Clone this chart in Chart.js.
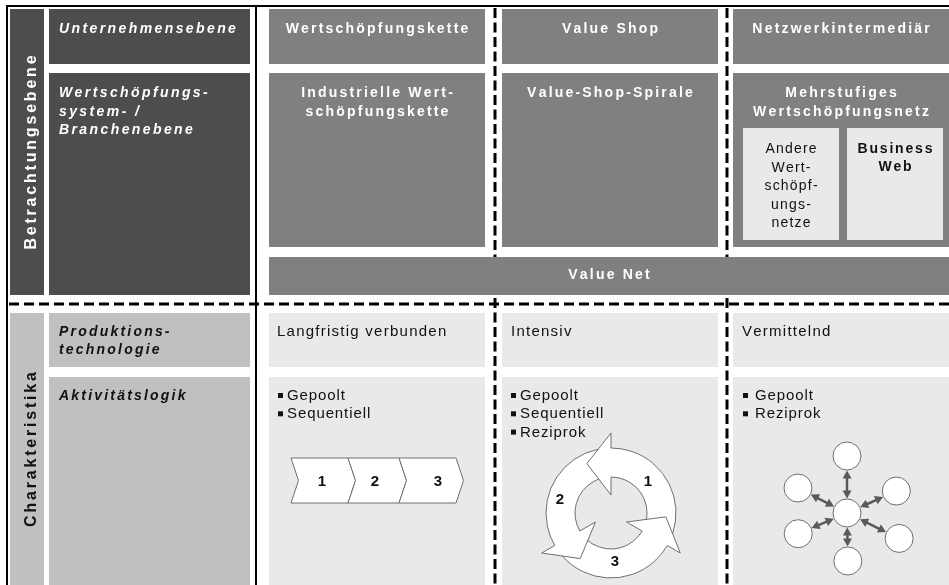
<!DOCTYPE html>
<html lang="de">
<head>
<meta charset="utf-8">
<title>Wertschöpfungskonfigurationen</title>
<script src="https://cdn.jsdelivr.net/npm/chart.js@4.4.1/dist/chart.umd.min.js"></script>
<style>
    html, body { margin: 0; padding: 0; background: #fff; }
    canvas { display: block; }
</style>
</head>
<body>
<canvas id="diagramm" width="949" height="585"></canvas>
<script>
// Inhalte des Schemas
const ebenenGruppen = ['Betrachtungsebene', 'Charakteristika'];
const betrachtungsebenen = ['Unternehmensebene', 'Wertschöpfungs-\nsystem- /\nBranchenebene'];
const charakteristika = ['Produktions-\ntechnologie', 'Aktivitätslogik'];
const modelle = ['Wertschöpfungskette', 'Value Shop', 'Netzwerkintermediär'];
const systeme = ['Industrielle Wert-\nschöpfungskette', 'Value-Shop-Spirale', 'Mehrstufiges\nWertschöpfungsnetz'];
const teilnetze = ['Andere\nWert-\nschöpf-\nungs-\nnetze', 'Business\nWeb'];
const gesamtsystem = 'Value Net';
const technologien = ['Langfristig verbunden', 'Intensiv', 'Vermittelnd'];
const aktivitaeten = [
    ['Gepoolt', 'Sequentiell'],
    ['Gepoolt', 'Sequentiell', 'Reziprok'],
    ['Gepoolt', 'Reziprok']
];
const kettenSchritte = ['1', '2', '3'];
const zyklusSchritte = ['1', '2', '3'];

(function () {
    const canvas = document.getElementById('diagramm');
    if (!canvas || typeof Chart === 'undefined') {
        return;
    }

    const SCHRIFT = '"Liberation Sans", Arial, Helvetica, sans-serif';
    const FARBE = {
        dunkel: '#4d4d4d',
        mittel: '#808080',
        hell: '#c0c0c0',
        sehrHell: '#e9e9e9',
        text: '#111111',
        kontur: '#6f6f6f',
        pfeil: '#5a5a5a'
    };

    // Raster (in Achseneinheiten, 1 Einheit = 1 Pixel)
    const spalten = [[269, 485], [502, 718], [733, 949]];
    const trenner = [495, 727];

    // Sternnetz: Nabe und Speichen (Winkel in Grad, Länge)
    const nabe = { x: 847, y: 513 };
    const speichen = [[90, 57], [24, 54], [-26, 58], [-89, 48], [-157, 53], [153, 55]];
    const grad = w => w * Math.PI / 180;
    const knoten = [nabe].concat(speichen.map(function (s) {
        return { x: nabe.x + s[1] * Math.cos(grad(s[0])), y: nabe.y - s[1] * Math.sin(grad(s[0])) };
    }));

    const zyklus = {
        cx: 611, cy: 513, innen: 36, aussen: 65, spitze: 55,
        hakenAussen: 80, hakenInnen: 18, kopf: 26, basis: [90, 210, 330],
        ziffern: [[648, 482], [560, 500], [615, 562]]
    };

    const kette = { kanten: [291, 348, 399, 456], tiefe: 7.5, oben: 458, unten: 503, ziffernX: [322, 375, 438] };

    function schreibe(ctx, text, x, y, font, farbe, abstand, mitte) {
        ctx.font = font;
        ctx.fillStyle = farbe;
        ctx.textAlign = 'left';
        ctx.textBaseline = 'alphabetic';
        const zeichen = Array.from(text);
        const breiten = zeichen.map(z => ctx.measureText(z).width);
        const gesamt = breiten.reduce((a, b) => a + b, 0) + abstand * (zeichen.length - 1);
        let px = mitte ? x - gesamt / 2 : x;
        zeichen.forEach(function (z, i) {
            ctx.fillText(z, px, y);
            px += breiten[i] + abstand;
        });
    }

    function schreibeZeilen(ctx, text, x, y, zeilenHoehe, font, farbe, abstand, mitte) {
        text.split('\n').forEach(function (zeile, i) {
            schreibe(ctx, zeile, x, y + i * zeilenHoehe, font, farbe, abstand, mitte);
        });
    }

    const diagrammPlugin = {
        id: 'wertschoepfungsschema',
        beforeDatasetsDraw(chart) {
            const ctx = chart.ctx;
            const X = v => chart.scales.x.getPixelForValue(v);
            const Y = v => chart.scales.y.getPixelForValue(v);
            const R = r => X(r) - X(0);

            function feld(x0, y0, x1, y1, farbe) {
                ctx.fillStyle = farbe;
                ctx.fillRect(X(x0), Y(y0), X(x1) - X(x0), Y(y1) - Y(y0));
            }

            ctx.save();

            // gestrichelte Trennlinien
            ctx.strokeStyle = '#000';
            ctx.lineWidth = 3;
            ctx.setLineDash([10, 4.5]);
            trenner.forEach(function (tx) {
                ctx.beginPath();
                ctx.moveTo(X(tx), Y(8));
                ctx.lineTo(X(tx), Y(585));
                ctx.stroke();
            });
            ctx.setLineDash([10, 5]);
            ctx.beginPath();
            ctx.moveTo(X(9), Y(304));
            ctx.lineTo(X(949), Y(304));
            ctx.stroke();
            ctx.setLineDash([]);

            // linke Spalten
            feld(10, 9, 44, 295, FARBE.dunkel);
            feld(49, 9, 250, 64, FARBE.dunkel);
            feld(49, 73, 250, 295, FARBE.dunkel);
            feld(10, 313, 44, 585, FARBE.hell);
            feld(49, 313, 250, 367, FARBE.hell);
            feld(49, 377, 250, 585, FARBE.hell);

            // obere Matrix
            spalten.forEach(function (s) {
                feld(s[0], 9, s[1], 64, FARBE.mittel);
                feld(s[0], 73, s[1], 247, FARBE.mittel);
            });
            feld(743, 128, 839, 240, FARBE.sehrHell);
            feld(847, 128, 943, 240, FARBE.sehrHell);
            feld(269, 257, 949, 295, FARBE.mittel);

            // untere Matrix
            spalten.forEach(function (s) {
                feld(s[0], 313, s[1], 367, FARBE.sehrHell);
                feld(s[0], 377, s[1], 585, FARBE.sehrHell);
            });

            // Rahmenlinien
            ctx.fillStyle = '#000';
            ctx.fillRect(X(6), Y(5), X(949) - X(6), 2);
            ctx.fillRect(X(6), Y(5), 2, Y(585) - Y(5));
            ctx.fillRect(X(255), Y(5), 2, Y(585) - Y(5));

            // gedrehte Gruppenbeschriftungen
            [[ebenenGruppen[0], 152.5, '#ffffff'], [ebenenGruppen[1], 449.5, FARBE.text]].forEach(function (g) {
                ctx.save();
                ctx.translate(X(36), Y(g[1]));
                ctx.rotate(-Math.PI / 2);
                schreibe(ctx, g[0], 0, 0, 'bold 16px ' + SCHRIFT, g[2], 2.8, true);
                ctx.restore();
            });

            const fettKursiv = 'bold italic 14px ' + SCHRIFT;
            const fett = 'bold 14px ' + SCHRIFT;
            schreibe(ctx, betrachtungsebenen[0], X(59), Y(33), fettKursiv, '#ffffff', 2.4, false);
            schreibeZeilen(ctx, betrachtungsebenen[1], X(59), Y(97), 18.5, fettKursiv, '#ffffff', 2.4, false);
            schreibeZeilen(ctx, charakteristika[0], X(59), Y(336), 18, fettKursiv, FARBE.text, 2.2, false);
            schreibe(ctx, charakteristika[1], X(59), Y(400), fettKursiv, FARBE.text, 2.2, false);

            spalten.forEach(function (s, i) {
                const mx = X((s[0] + s[1]) / 2);
                schreibe(ctx, modelle[i], mx, Y(33), fett, '#ffffff', 2.2, true);
                schreibeZeilen(ctx, systeme[i], mx, Y(97), 18.5, fett, '#ffffff', 2.2, true);
            });
            schreibeZeilen(ctx, teilnetze[0], X(791), Y(153), 18.5, '14px ' + SCHRIFT, FARBE.text, 1.2, true);
            schreibeZeilen(ctx, teilnetze[1], X(895), Y(153), 18, fett, FARBE.text, 1.8, true);
            schreibe(ctx, gesamtsystem, X(609), Y(279), fett, '#ffffff', 2.2, true);

            // Produktionstechnologie und Aktivitätslogik
            const textX = [277, 511, 742];
            const punktX = [278, 511, 743];
            const listeX = [287, 520, 755];
            technologien.forEach(function (t, i) {
                schreibe(ctx, t, X(textX[i]), Y(336), '15px ' + SCHRIFT, FARBE.text, 1.25, false);
            });
            aktivitaeten.forEach(function (liste, i) {
                liste.forEach(function (eintrag, j) {
                    const by = 400 + j * 18.3;
                    ctx.fillStyle = FARBE.text;
                    ctx.fillRect(X(punktX[i]), Y(by - 7), 5, 5);
                    schreibe(ctx, eintrag, X(listeX[i]), Y(by), '15px ' + SCHRIFT, FARBE.text, 0.9, false);
                });
            });

            // Wertkette: drei Chevrons
            ctx.lineWidth = 1;
            ctx.strokeStyle = FARBE.kontur;
            const mitteY = (kette.oben + kette.unten) / 2;
            kettenSchritte.forEach(function (schritt, i) {
                const l = kette.kanten[i];
                const r = kette.kanten[i + 1];
                ctx.beginPath();
                ctx.moveTo(X(l), Y(kette.oben));
                ctx.lineTo(X(r), Y(kette.oben));
                ctx.lineTo(X(r + kette.tiefe), Y(mitteY));
                ctx.lineTo(X(r), Y(kette.unten));
                ctx.lineTo(X(l), Y(kette.unten));
                ctx.lineTo(X(l + kette.tiefe), Y(mitteY));
                ctx.closePath();
                ctx.fillStyle = '#ffffff';
                ctx.fill();
                ctx.stroke();
                ctx.font = 'bold 15px ' + SCHRIFT;
                ctx.fillStyle = FARBE.text;
                ctx.textAlign = 'center';
                ctx.textBaseline = 'middle';
                ctx.fillText(schritt, X(kette.ziffernX[i]), Y(mitteY + 1));
            });

            // Value-Shop-Spirale: drei Kreispfeile
            const z = zyklus;
            const polar = function (r, w) {
                return [X(z.cx + r * Math.cos(grad(w))), Y(z.cy - r * Math.sin(grad(w)))];
            };
            const zx = X(z.cx);
            const zy = Y(z.cy);
            function schnitt(a, b, r, bezug) {
                const abst = p => Math.hypot(p[0] - zx, p[1] - zy) - R(r);
                const fa = Math.sign(abst(a));
                let lo = 0;
                let hi = 1;
                for (let k = 0; k < 40; k++) {
                    const m = (lo + hi) / 2;
                    const p = [a[0] + (b[0] - a[0]) * m, a[1] + (b[1] - a[1]) * m];
                    if (Math.sign(abst(p)) === fa) { lo = m; } else { hi = m; }
                }
                const p = [a[0] + (b[0] - a[0]) * lo, a[1] + (b[1] - a[1]) * lo];
                let w = Math.atan2(-(p[1] - zy), p[0] - zx) * 180 / Math.PI;
                while (w < bezug - 180) { w += 360; }
                while (w > bezug + 180) { w -= 360; }
                return w;
            }
            function kopf(w) {
                const pts = [polar(z.hakenAussen, w), polar(z.spitze, w + z.kopf), polar(z.hakenInnen, w), polar(z.innen, w)];
                pts.forEach(p => ctx.lineTo(p[0], p[1]));
            }
            z.basis.forEach(function (w) {
                const vor = w - 120;
                ctx.beginPath();
                ctx.arc(zx, zy, R(z.aussen), -grad(vor), -grad(w), true);
                kopf(w);
                ctx.arc(zx, zy, R(z.innen), -grad(w), -grad(vor), false);
                ctx.closePath();
                ctx.fillStyle = '#ffffff';
                ctx.fill();
            });
            z.basis.forEach(function (w) {
                const vor = w - 120;
                const spitzeVor = polar(z.spitze, vor + z.kopf);
                const wa = schnitt(polar(z.hakenAussen, vor), spitzeVor, z.aussen, vor);
                const wi = schnitt(polar(z.hakenInnen, vor), spitzeVor, z.innen, vor);
                ctx.beginPath();
                ctx.arc(zx, zy, R(z.aussen), -grad(wa), -grad(w), true);
                kopf(w);
                ctx.arc(zx, zy, R(z.innen), -grad(w), -grad(wi), false);
                ctx.strokeStyle = FARBE.kontur;
                ctx.lineWidth = 1;
                ctx.stroke();
            });
            ctx.font = 'bold 15px ' + SCHRIFT;
            ctx.fillStyle = FARBE.text;
            ctx.textAlign = 'center';
            ctx.textBaseline = 'middle';
            zyklusSchritte.forEach(function (s, i) {
                ctx.fillText(s, X(z.ziffern[i][0]), Y(z.ziffern[i][1]));
            });

            // Sternnetz: Doppelpfeile zwischen Nabe und Knoten
            ctx.strokeStyle = FARBE.pfeil;
            ctx.fillStyle = FARBE.pfeil;
            ctx.lineWidth = 2.5;
            const knotenR = 14.5;
            const spitzeL = 8;
            const spitzeB = 4.5;
            knoten.slice(1).forEach(function (k) {
                const dx = k.x - nabe.x;
                const dy = k.y - nabe.y;
                const len = Math.hypot(dx, dy);
                const ux = dx / len;
                const uy = dy / len;
                const a = [nabe.x + ux * knotenR, nabe.y + uy * knotenR];
                const b = [k.x - ux * knotenR, k.y - uy * knotenR];
                ctx.beginPath();
                ctx.moveTo(X(a[0] + ux * spitzeL * 0.8), Y(a[1] + uy * spitzeL * 0.8));
                ctx.lineTo(X(b[0] - ux * spitzeL * 0.8), Y(b[1] - uy * spitzeL * 0.8));
                ctx.stroke();
                [[a, 1], [b, -1]].forEach(function (e) {
                    const p = e[0];
                    const s = e[1];
                    const bx = p[0] + s * ux * spitzeL;
                    const by = p[1] + s * uy * spitzeL;
                    ctx.beginPath();
                    ctx.moveTo(X(p[0]), Y(p[1]));
                    ctx.lineTo(X(bx - uy * spitzeB), Y(by + ux * spitzeB));
                    ctx.lineTo(X(bx + uy * spitzeB), Y(by - ux * spitzeB));
                    ctx.closePath();
                    ctx.fill();
                });
            });

            ctx.restore();
        }
    };

    new Chart(canvas, {
        type: 'scatter',
        data: {
            datasets: [{
                label: 'Netzwerkknoten',
                data: knoten,
                pointRadius: 14,
                pointHoverRadius: 14,
                pointBackgroundColor: '#ffffff',
                pointBorderColor: FARBE.kontur,
                pointBorderWidth: 1,
                clip: false
            }]
        },
        options: {
            responsive: false,
            animation: false,
            devicePixelRatio: 1,
            events: [],
            layout: { padding: 0, autoPadding: false },
            scales: {
                x: { type: 'linear', min: 0, max: 949, display: false },
                y: { type: 'linear', min: 0, max: 585, reverse: true, display: false }
            },
            plugins: {
                legend: { display: false },
                tooltip: { enabled: false }
            }
        },
        plugins: [diagrammPlugin]
    });
})();
</script>
</body>
</html>
